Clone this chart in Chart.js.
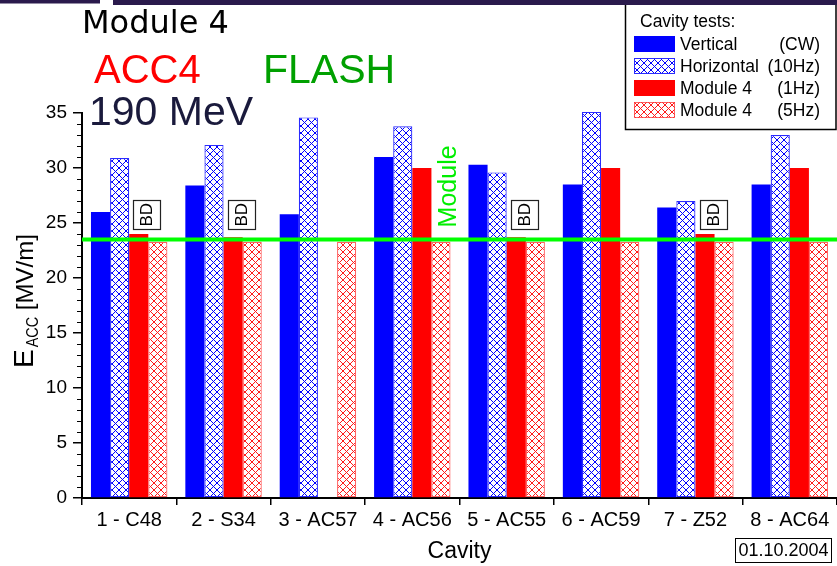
<!DOCTYPE html>
<html>
<head>
<meta charset="utf-8">
<style>
  html, body { margin: 0; padding: 0; background: #ffffff; }
  #wrap { width: 837px; height: 566px; position: relative; overflow: hidden; }
</style>
<script src="https://cdn.jsdelivr.net/npm/chart.js@4.4.1/dist/chart.umd.min.js"></script>
</head>
<body>
<div id="wrap"><canvas id="chart" width="837" height="566"></canvas></div>
<script>
// Cavities of Module 4 (ACC4) and their accelerating gradients in MV/m
const categories = ['1 - C48', '2 - S34', '3 - AC57', '4 - AC56', '5 - AC55', '6 - AC59', '7 - Z52', '8 - AC64'];
const verticalCW = [26.0, 28.4, 25.8, 31.0, 30.3, 28.5, 26.4, 28.5];
const horizontal10Hz = [30.9, 32.1, 34.6, 33.8, 29.6, 35.1, 27.0, 33.0];
const module1Hz = [24.0, 23.7, null, 30.0, 23.7, 30.0, 24.0, 30.0];
const module5Hz = [23.3, 23.3, 23.3, 23.3, 23.3, 23.3, 23.3, 23.3];
// cavities limited by breakdown in the 1 Hz module test
const breakdown = [true, true, false, false, true, false, true, false];
// module operating gradient
const moduleGradient = 23.5;
const yTicks = [0, 5, 10, 15, 20, 25, 30, 35];

const legendLabels = ['Vertical', 'Horizontal', 'Module 4', 'Module 4'];
const legendModes = ['(CW)', '(10Hz)', '(1Hz)', '(5Hz)'];

const BLUE = '#0000ff';
const RED = '#ff0000';
const SANS = '"Liberation Sans", Arial, sans-serif';

function crossHatch(color) {
  const n = 7;
  const c = document.createElement('canvas');
  c.width = n; c.height = n;
  const g = c.getContext('2d');
  g.fillStyle = '#ffffff';
  g.fillRect(0, 0, n, n);
  g.fillStyle = color;
  for (let i = 0; i < n; i++) {
    g.fillRect(i, i, 1, 1);
    g.fillRect(n - 1 - i, i, 1, 1);
  }
  return g.createPattern(c, 'repeat');
}
const blueHatch = crossHatch(BLUE);
const redHatch = crossHatch('#ff1a1a');

const styles = [
  { fill: BLUE, border: BLUE, bw: 0 },
  { fill: blueHatch, border: '#2a2aff', bw: 1.2 },
  { fill: RED, border: RED, bw: 0 },
  { fill: redHatch, border: 'rgba(255,60,60,0.8)', bw: 1.2 }
];

const overlay = {
  id: 'overlay',
  afterDatasetsDraw(chart) {
    const { ctx, chartArea: a, scales: { x, y } } = chart;
    ctx.save();
    // module gradient line
    const gy = y.getPixelForValue(moduleGradient);
    ctx.strokeStyle = '#00ff00';
    ctx.lineWidth = 4;
    ctx.beginPath();
    ctx.moveTo(a.left, gy);
    ctx.lineTo(a.right, gy);
    ctx.stroke();

    // breakdown markers above the 1 Hz bars
    const hatchMeta = chart.getDatasetMeta(3);
    const boxTop = y.getPixelForValue(27.05);
    const boxBot = y.getPixelForValue(24.45);
    breakdown.forEach((isBD, i) => {
      if (!isBD) return;
      const ref = hatchMeta.data[i];
      const cx = ref.x - ref.width * 0.58;
      const bw = 27;
      ctx.fillStyle = '#ffffff';
      ctx.fillRect(cx - bw / 2, boxTop, bw, boxBot - boxTop);
      ctx.strokeStyle = '#222222';
      ctx.lineWidth = 1.2;
      ctx.strokeRect(Math.round(cx - bw / 2) + 0.5, Math.round(boxTop) + 0.5, bw, Math.round(boxBot - boxTop));
      ctx.save();
      ctx.translate(cx, (boxTop + boxBot) / 2);
      ctx.rotate(-Math.PI / 2);
      ctx.fillStyle = '#000000';
      ctx.font = '17px ' + SANS;
      ctx.textAlign = 'center';
      ctx.textBaseline = 'middle';
      ctx.fillText('BD', 0, 1);
      ctx.restore();
    });

    // label of the module gradient line
    const m = hatchMeta.data[3];
    ctx.save();
    ctx.translate(m.x + m.width * 0.45, y.getPixelForValue(24.6));
    ctx.rotate(-Math.PI / 2);
    ctx.fillStyle = '#00ee00';
    ctx.font = '25px ' + SANS;
    ctx.textAlign = 'left';
    ctx.textBaseline = 'middle';
    ctx.fillText('Module', 0, 0);
    ctx.restore();
    ctx.restore();
  },
  afterDraw(chart) {
    const { ctx, chartArea: a, scales: { y } } = chart;
    ctx.save();

    // minor ticks on the gradient axis
    ctx.strokeStyle = '#000000';
    ctx.lineWidth = 1;
    for (let v = 0; v <= 35; v++) {
      if (v % 5 === 0) continue;
      const py = Math.round(y.getPixelForValue(v)) + 0.5;
      ctx.beginPath();
      ctx.moveTo(a.left - 5, py);
      ctx.lineTo(a.left, py);
      ctx.stroke();
    }

    // axis titles
    ctx.fillStyle = '#000000';
    ctx.textBaseline = 'alphabetic';
    ctx.font = '23px ' + SANS;
    ctx.textAlign = 'center';
    ctx.fillText('Cavity', (a.left + a.right) / 2, 558);

    ctx.save();
    ctx.translate(33, 368);
    ctx.rotate(-Math.PI / 2);
    ctx.textAlign = 'left';
    ctx.font = '28px ' + SANS;
    ctx.fillText('E', 0, 0);
    let off = ctx.measureText('E').width + 2;
    ctx.save();
    ctx.translate(off, 5);
    ctx.scale(0.85, 1);
    ctx.font = '17px ' + SANS;
    ctx.fillText('ACC', 0, 0);
    off += ctx.measureText('ACC').width * 0.85;
    ctx.restore();
    ctx.font = '24px ' + SANS;
    ctx.fillText(' [MV/m]', off, 0);
    ctx.restore();

    // headings
    ctx.textAlign = 'left';
    ctx.font = '32px "DejaVu Sans", sans-serif';
    ctx.fillStyle = '#000000';
    ctx.fillText('Module 4', 82, 33);
    ctx.font = '40px ' + SANS;
    ctx.fillStyle = '#ff0000';
    ctx.fillText('ACC4', 94, 83);
    ctx.font = '41px ' + SANS;
    ctx.fillStyle = '#00a000';
    ctx.fillText('FLASH', 263, 83);
    ctx.fillStyle = '#1a1a3c';
    ctx.fillText('190 MeV', 89, 125);

    // legend
    ctx.fillStyle = '#ffffff';
    ctx.fillRect(625, 3, 212, 127);
    ctx.strokeStyle = '#000000';
    ctx.lineWidth = 1.5;
    ctx.strokeRect(625.5, 3.5, 210.5, 126);
    ctx.fillStyle = '#000000';
    ctx.font = '17.5px ' + SANS;
    ctx.textBaseline = 'middle';
    ctx.fillText('Cavity tests:', 640, 22);
    const rowY = [44, 66, 88, 110];
    for (let i = 0; i < 4; i++) {
      const s = styles[i];
      const top = rowY[i] - 8;
      ctx.fillStyle = s.fill;
      ctx.fillRect(634, top, 41, 16);
      if (s.bw) {
        ctx.strokeStyle = s.border;
        ctx.lineWidth = 1;
        ctx.strokeRect(634.5, top + 0.5, 40, 15);
      }
      ctx.fillStyle = '#000000';
      ctx.textAlign = 'left';
      ctx.fillText(legendLabels[i], 680, rowY[i] + 1);
      ctx.textAlign = 'right';
      ctx.fillText(legendModes[i], 820, rowY[i] + 1);
    }

    // date stamp
    ctx.fillStyle = '#ffffff';
    ctx.fillRect(735, 538, 97, 25);
    ctx.strokeStyle = '#000000';
    ctx.lineWidth = 1;
    ctx.strokeRect(735.5, 538.5, 96, 24);
    ctx.fillStyle = '#000000';
    ctx.textAlign = 'center';
    ctx.font = '18px ' + SANS;
    ctx.fillText('01.10.2004', 783.5, 551.5);

    // header band
    ctx.fillStyle = '#2a1a4c';
    ctx.fillRect(0, 0, 100, 3.5);
    ctx.fillRect(113, 0, 724, 5);
    ctx.restore();
  }
};

const datasetValues = [verticalCW, horizontal10Hz, module1Hz, module5Hz];
const datasetNames = ['Vertical (CW)', 'Horizontal (10Hz)', 'Module 4 (1Hz)', 'Module 4 (5Hz)'];

new Chart(document.getElementById('chart'), {
  type: 'bar',
  data: {
    labels: categories,
    datasets: datasetValues.map((vals, i) => ({
      label: datasetNames[i],
      data: vals,
      backgroundColor: styles[i].fill,
      borderColor: styles[i].border,
      borderWidth: styles[i].bw,
      borderSkipped: false,
      categoryPercentage: 0.81,
      barPercentage: 1.0,
      clip: false
    }))
  },
  options: {
    responsive: false,
    animation: false,
    devicePixelRatio: 1,
    layout: { padding: { left: 0, right: 0, top: 113, bottom: 0 } },
    plugins: { legend: { display: false }, tooltip: { enabled: false }, title: { display: false } },
    scales: {
      x: {
        offset: true,
        grid: { display: true, drawOnChartArea: false, drawTicks: true, tickLength: 7, color: '#000000', lineWidth: 1.5, offset: true },
        border: { display: true, color: '#000000', width: 2 },
        ticks: { color: '#000000', font: { family: SANS, size: 20 }, padding: 3, maxRotation: 0, autoSkip: false },
        afterFit(scale) { scale.height = 68; }
      },
      y: {
        min: 0,
        max: 35,
        afterBuildTicks(scale) { scale.ticks = yTicks.map(v => ({ value: v })); },
        grid: { display: true, drawOnChartArea: false, drawTicks: true, tickLength: 9, color: '#000000', lineWidth: 1.5 },
        border: { display: true, color: '#000000', width: 2 },
        ticks: { color: '#000000', font: { family: SANS, size: 19 }, padding: 6 },
        afterFit(scale) { scale.width = 82; }
      }
    }
  },
  plugins: [overlay]
});
</script>
</body>
</html>
